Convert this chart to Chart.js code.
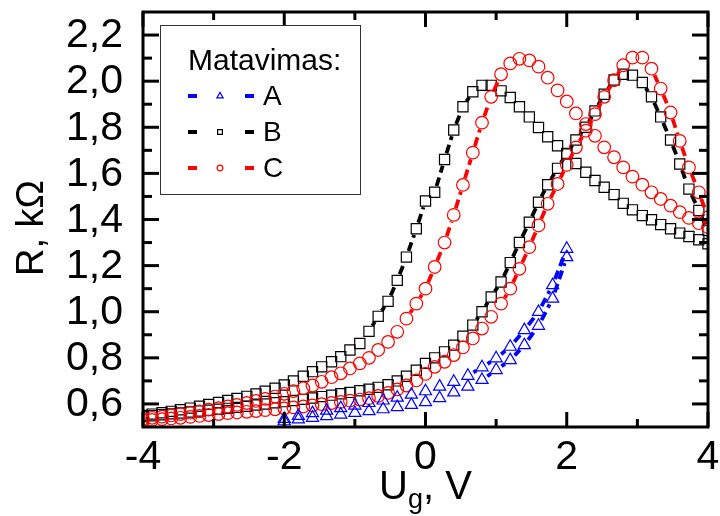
<!DOCTYPE html>
<html>
<head>
<meta charset="utf-8">
<script src="https://cdn.jsdelivr.net/npm/chart.js@4.4.0/dist/chart.umd.min.js"></script>
<style>
  html, body { margin: 0; padding: 0; background: #fff; }
  #wrap { width: 720px; height: 516px; }
</style>
</head>
<body>
<div id="wrap"><canvas id="chart" width="720" height="516"></canvas></div>
<script>
// gate voltage grid for series B and C (both sweeps)
const UG = [-4, -3.87, -3.73, -3.6, -3.47, -3.33, -3.2, -3.07, -2.93, -2.8, -2.67, -2.53, -2.4, -2.27, -2.13,
    -2, -1.87, -1.73, -1.6, -1.47, -1.33, -1.2, -1.07, -0.93, -0.8, -0.67, -0.53, -0.4, -0.27, -0.13,
    0, 0.13, 0.27, 0.4, 0.53, 0.67, 0.8, 0.93, 1.07, 1.2, 1.33, 1.47, 1.6, 1.73, 1.87,
    2, 2.13, 2.27, 2.4, 2.53, 2.67, 2.8, 2.93, 3.07, 3.2, 3.33, 3.47, 3.6, 3.73, 3.87, 4];

// gate voltage grid for series A
const UG_A = [-2, -1.8, -1.6, -1.4, -1.2, -1, -0.8, -0.6, -0.4, -0.2, 0, 0.2, 0.4, 0.6, 0.8, 1, 1.2, 1.4, 1.6, 1.8, 2];

// resistance, kOhm
const R_A_UP = [0.535, 0.548, 0.56, 0.571, 0.582, 0.593, 0.604, 0.615, 0.627, 0.64, 0.655, 0.675, 0.696, 0.722,
    0.759, 0.798, 0.848, 0.92, 0.999, 1.115, 1.273];
const R_A_DOWN = [0.525, 0.533, 0.54, 0.547, 0.554, 0.561, 0.569, 0.577, 0.586, 0.596, 0.608, 0.625, 0.65, 0.675,
    0.704, 0.747, 0.79, 0.855, 0.939, 1.057, 1.237];

const R_B1 = [0.55, 0.556, 0.562, 0.568, 0.575, 0.582, 0.59, 0.598, 0.606, 0.615, 0.624, 0.633, 0.643, 0.655, 0.668,
    0.682, 0.7, 0.72, 0.74, 0.761, 0.783, 0.805, 0.834, 0.862, 0.915, 0.98, 1.045, 1.136, 1.237, 1.36,
    1.48, 1.518, 1.66, 1.788, 1.889, 1.954, 1.982, 1.982, 1.958, 1.929, 1.889, 1.845, 1.799, 1.759, 1.72,
    1.684, 1.643, 1.605, 1.569, 1.54, 1.508, 1.47, 1.442, 1.417, 1.399, 1.378, 1.36, 1.341, 1.326, 1.312, 1.295];
const R_B2 = [0.545, 0.549, 0.553, 0.557, 0.561, 0.565, 0.569, 0.573, 0.577, 0.581, 0.585, 0.59, 0.595, 0.6, 0.605,
    0.61, 0.615, 0.62, 0.626, 0.632, 0.638, 0.644, 0.65, 0.657, 0.664, 0.672, 0.683, 0.7, 0.72, 0.746,
    0.776, 0.8, 0.826, 0.855, 0.894, 0.942, 1.0, 1.064, 1.129, 1.213, 1.3, 1.388, 1.475, 1.551, 1.622,
    1.687, 1.745, 1.8, 1.871, 1.943, 2.005, 2.03, 2.026, 1.994, 1.932, 1.845, 1.745, 1.641, 1.532, 1.439, 1.352];

const R_C1 = [0.535, 0.54, 0.545, 0.55, 0.556, 0.562, 0.568, 0.575, 0.582, 0.589, 0.596, 0.604, 0.613, 0.622, 0.632,
    0.644, 0.656, 0.668, 0.68, 0.696, 0.716, 0.733, 0.754, 0.776, 0.8, 0.834, 0.869, 0.913, 0.97, 1.035,
    1.1, 1.194, 1.3, 1.42, 1.55, 1.69, 1.82, 1.932, 2.03, 2.077, 2.097, 2.09, 2.063, 2.015, 1.96,
    1.912, 1.86, 1.814, 1.763, 1.713, 1.67, 1.626, 1.586, 1.551, 1.518, 1.489, 1.46, 1.432, 1.407, 1.384, 1.367];
const R_C2 = [0.528, 0.531, 0.534, 0.537, 0.54, 0.544, 0.548, 0.552, 0.556, 0.56, 0.563, 0.566, 0.569, 0.573, 0.577,
    0.581, 0.585, 0.589, 0.594, 0.599, 0.604, 0.609, 0.614, 0.619, 0.625, 0.635, 0.648, 0.663, 0.68, 0.702,
    0.73, 0.761, 0.783, 0.812, 0.845, 0.884, 0.927, 0.978, 1.035, 1.1, 1.186, 1.28, 1.374, 1.468, 1.554,
    1.637, 1.713, 1.785, 1.857, 1.932, 2.004, 2.069, 2.102, 2.102, 2.054, 1.968, 1.864, 1.741, 1.626, 1.518, 1.41];

const SERIES_NAMES = ['A', 'B', 'C'];
const LEGEND_TITLE = 'Matavimas:';

const X_TICKS = [-4, -2, 0, 2, 4];
const X_LABELS = ['-4', '-2', '0', '2', '4'];
const X_MINOR = [-3, -1, 1, 3];
const Y_TICKS = [0.6, 0.8, 1.0, 1.2, 1.4, 1.6, 1.8, 2.0, 2.2];
const Y_LABELS = ['0,6', '0,8', '1,0', '1,2', '1,4', '1,6', '1,8', '2,0', '2,2'];
const Y_MINOR = [0.7, 0.9, 1.1, 1.3, 1.5, 1.7, 1.9, 2.1];

const FONT = "'Liberation Sans', Arial, sans-serif";
const BLUE = '#0000ff';
const RED = '#ff0000';
const CLEAR = 'rgba(0,0,0,0)';

const toPoints = (xs, ys) => xs.map((x, i) => ({ x: x, y: ys[i] }));

function series(label, xs, ys, color, style, radius, gap, order) {
    return {
        label: label,
        data: toPoints(xs, ys),
        showLine: false,
        borderColor: color,
        backgroundColor: CLEAR,
        pointStyle: style,
        pointRadius: radius,
        pointBorderWidth: 1.2,
        pointBorderColor: color,
        pointBackgroundColor: CLEAR,
        clip: 0,
        gap: gap,
        order: order,
    };
}

// dashed connectors that stop short of each marker
const gapLines = {
    id: 'gapLines',
    beforeDatasetDraw(chart, args) {
        const ds = chart.data.datasets[args.index];
        const pts = args.meta.data;
        const ctx = chart.ctx;
        const a = chart.chartArea;
        ctx.save();
        ctx.beginPath();
        ctx.rect(a.left, a.top, a.right - a.left, a.bottom - a.top);
        ctx.clip();
        ctx.strokeStyle = ds.borderColor;
        ctx.lineWidth = 3.8;
        ctx.setLineDash([9, 5]);
        for (let i = 1; i < pts.length; i++) {
            const p = pts[i - 1], q = pts[i];
            const dx = q.x - p.x, dy = q.y - p.y;
            const d = Math.hypot(dx, dy);
            const g = ds.gap;
            if (d <= 2 * g + 3) continue;
            const ux = dx / d, uy = dy / d;
            ctx.beginPath();
            ctx.moveTo(p.x + ux * g, p.y + uy * g);
            ctx.lineTo(q.x - ux * g, q.y - uy * g);
            ctx.stroke();
        }
        ctx.restore();
    }
};

// thick box frame with inward ticks on all four sides, plus tick labels
const frame = {
    id: 'frame',
    afterDatasetsDraw(chart) {
        const { ctx, chartArea: a, scales: { x, y } } = chart;
        ctx.save();
        ctx.strokeStyle = '#000';
        ctx.lineWidth = 3;
        const line = (x1, y1, x2, y2) => {
            ctx.beginPath();
            ctx.moveTo(x1, y1);
            ctx.lineTo(x2, y2);
            ctx.stroke();
        };
        X_TICKS.forEach(v => {
            const px = x.getPixelForValue(v);
            line(px, a.bottom, px, a.bottom - 15);
            line(px, a.top, px, a.top + 15);
        });
        X_MINOR.forEach(v => {
            const px = x.getPixelForValue(v);
            line(px, a.bottom, px, a.bottom - 8);
            line(px, a.top, px, a.top + 8);
        });
        Y_TICKS.forEach(v => {
            const py = y.getPixelForValue(v);
            line(a.left, py, a.left + 16, py);
            line(a.right, py, a.right - 16, py);
        });
        Y_MINOR.forEach(v => {
            const py = y.getPixelForValue(v);
            line(a.left, py, a.left + 9, py);
            line(a.right, py, a.right - 9, py);
        });
        ctx.strokeRect(a.left, a.top, a.right - a.left, a.bottom - a.top);

        ctx.fillStyle = '#000';
        ctx.font = '41px ' + FONT;
        ctx.textAlign = 'right';
        ctx.textBaseline = 'middle';
        Y_TICKS.forEach((v, i) => ctx.fillText(Y_LABELS[i], a.left - 20, y.getPixelForValue(v) + 1));
        ctx.textAlign = 'center';
        ctx.textBaseline = 'alphabetic';
        X_TICKS.forEach((v, i) => ctx.fillText(X_LABELS[i], x.getPixelForValue(v), a.bottom + 42));
        ctx.restore();
    }
};

// legend box in the upper left corner
const legendBox = {
    id: 'legendBox',
    afterDraw(chart) {
        const ctx = chart.ctx;
        const a = chart.chartArea;
        const left = a.left + 17, top = a.top + 13;
        ctx.save();
        ctx.fillStyle = '#fff';
        ctx.fillRect(left, top, 200, 169);
        ctx.strokeStyle = '#333';
        ctx.lineWidth = 1;
        ctx.strokeRect(left + 0.5, top + 0.5, 200, 169);

        ctx.fillStyle = '#000';
        ctx.font = '30px ' + FONT;
        ctx.textBaseline = 'alphabetic';
        ctx.textAlign = 'left';
        ctx.fillText(LEGEND_TITLE, left + 28, top + 45);

        const styles = [
            { color: BLUE, style: 'triangle', r: 3.6 },
            { color: '#000', style: 'rect', r: 3.4 },
            { color: RED, style: 'circle', r: 2.8 },
        ];
        SERIES_NAMES.forEach((name, i) => {
            const cy = top + 71 + i * 36;
            const s = styles[i];
            ctx.fillStyle = s.color;
            ctx.fillRect(left + 28, cy - 2, 9, 4);
            ctx.fillRect(left + 85, cy - 2, 9, 4);
            ctx.fillStyle = CLEAR;
            ctx.strokeStyle = s.color;
            ctx.lineWidth = 1.2;
            Chart.helpers.drawPoint(ctx, { pointStyle: s.style, radius: s.r, borderWidth: 1.2, rotation: 0 },
                left + 60, cy);
            ctx.fillStyle = '#000';
            ctx.font = '28px ' + FONT;
            ctx.textBaseline = 'middle';
            ctx.fillText(name, left + 103, cy + 1);
        });
        ctx.restore();
    }
};

// axis titles, the x title carries a subscript
const axisTitles = {
    id: 'axisTitles',
    afterDraw(chart) {
        const ctx = chart.ctx;
        const a = chart.chartArea;
        ctx.save();
        ctx.fillStyle = '#000';
        ctx.textBaseline = 'alphabetic';

        ctx.save();
        ctx.translate(43, 228);
        ctx.rotate(-Math.PI / 2);
        ctx.textAlign = 'center';
        ctx.font = '38px ' + FONT;
        ctx.fillText('R, kΩ', 0, 0);
        ctx.restore();

        const big = '40px ' + FONT, small = '27px ' + FONT;
        ctx.font = big;
        const wU = ctx.measureText('U').width;
        const wRest = ctx.measureText(', V').width;
        ctx.font = small;
        const wg = ctx.measureText('g').width;
        const x0 = (a.left + a.right) / 2 - (wU + wg + wRest) / 2;
        const base = 499;
        ctx.textAlign = 'left';
        ctx.font = big;
        ctx.fillText('U', x0, base);
        ctx.font = small;
        ctx.fillText('g', x0 + wU, base + 9);
        ctx.font = big;
        ctx.fillText(', V', x0 + wU + wg, base);
        ctx.restore();
    }
};

const datasets = [
    series('C', UG, R_C1, RED, 'circle', 6.3, 7, 1),
    series('C', UG, R_C2, RED, 'circle', 6.3, 7, 1),
    series('B', UG, R_B1, '#000', 'rect', 7.2, 6.5, 2),
    series('B', UG, R_B2, '#000', 'rect', 7.2, 6.5, 2),
    series('A', UG_A, R_A_UP, BLUE, 'triangle', 7, 6.5, 0),
    series('A', UG_A, R_A_DOWN, BLUE, 'triangle', 7, 6.5, 0),
];

new Chart(document.getElementById('chart'), {
    type: 'scatter',
    data: { datasets: datasets },
    options: {
        responsive: false,
        animation: false,
        layout: { padding: { top: 12, right: 12, left: 0, bottom: 0 } },
        scales: {
            x: {
                type: 'linear',
                min: -4,
                max: 4,
                grid: { display: false, drawTicks: false },
                border: { display: false },
                ticks: { display: false },
                afterFit: s => { s.height = 89; },
            },
            y: {
                type: 'linear',
                min: 0.5,
                max: 2.3,
                grid: { display: false, drawTicks: false },
                border: { display: false },
                ticks: { display: false },
                afterFit: s => { s.width = 143; },
            },
        },
        plugins: {
            legend: { display: false },
            tooltip: { enabled: false },
        },
    },
    plugins: [gapLines, frame, legendBox, axisTitles],
});
</script>
</body>
</html>
